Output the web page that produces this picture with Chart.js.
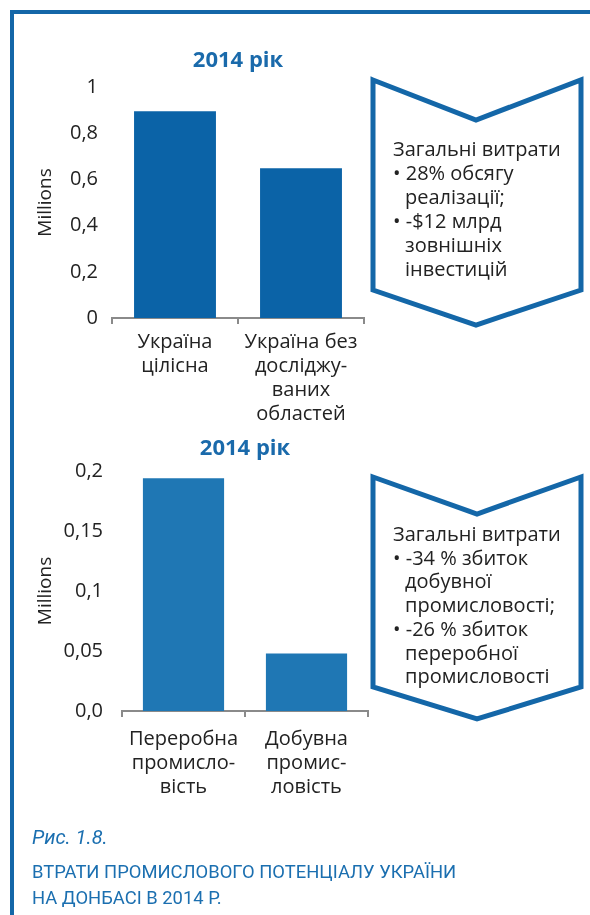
<!DOCTYPE html>
<html>
<head>
<meta charset="utf-8">
<script src="https://cdn.jsdelivr.net/npm/chart.js@4"></script>
<style>
  html, body { margin: 0; padding: 0; background: #fff; }
  body { width: 590px; height: 915px; position: relative; overflow: hidden; font-family: "Open Sans", sans-serif; }
  .frame-left { position: absolute; left: 10px; top: 10px; width: 4px; height: 905px; background: #1467a8; }
  .frame-top { position: absolute; left: 10px; top: 10px; width: 580px; height: 4px; background: #1467a8; }
  canvas { position: absolute; left: 0; }
  svg { position: absolute; left: 0; top: 0; }
  .note { position: absolute; left: 393px; width: 180px; font-size: 20px; line-height: 24px; color: #222; }
  .note .b { padding-left: 12px; text-indent: -12px; }
  .cap { position: absolute; left: 32px; color: #1b6fb0; font-family: Roboto, sans-serif; }
</style>
</head>
<body>
<div class="frame-left"></div>
<div class="frame-top"></div>

<canvas id="chart1" width="370" height="380" style="top:48px"></canvas>
<canvas id="chart2" width="370" height="365" style="top:436px"></canvas>

<svg width="590" height="915">
  <polygon points="373,80 476,120 581,80 581,290 476,325 373,290" fill="none" stroke="#1467a8" stroke-width="5" stroke-linejoin="miter"/>
  <polygon points="373,477 477,514 581,477 581,687 477,719 373,687" fill="none" stroke="#1467a8" stroke-width="5" stroke-linejoin="miter"/>
</svg>

<div class="note" style="top:137px">
  <div>Загальні витрати</div>
  <div class="b">• 28% обсягу реалізації;</div>
  <div class="b">• -$12 млрд зовнішніх інвестицій</div>
</div>
<div class="note" style="top:522px; line-height:23.7px">
  <div>Загальні витрати</div>
  <div class="b">• -34 % збиток добувної промисловості;</div>
  <div class="b">• -26 % збиток переробної промисловості</div>
</div>

<div class="cap" style="top:825px; font-size:20px; font-style:italic;">Рис. 1.8.</div>
<div class="cap" style="top:859px; font-size:18.4px; line-height:26px;">ВТРАТИ ПРОМИСЛОВОГО ПОТЕНЦІАЛУ УКРАЇНИ<br>НА ДОНБАСІ В 2014 Р.</div>

<script>
// Chart 1: Україна (millions)
const categories1 = [['Україна', 'цілісна'], ['Україна без', 'досліджу-', 'ваних', 'областей']];
const values1 = [0.895, 0.648];
const yLabels1 = ['0', '0,2', '0,4', '0,6', '0,8', '1'];

// Chart 2: промисловість (millions)
const categories2 = [['Переробна', 'промисло-', 'вість'], ['Добувна', 'промис-', 'ловість']];
const values2 = [0.194, 0.048];
const yLabels2 = ['0,0', '0,05', '0,1', '0,15', '0,2'];

const titleText = '2014 рік';
const axisTitle = 'Millions';

function makeChart(id, cats, vals, yLabels, opt) {
    const ctx = document.getElementById(id).getContext('2d');
    return new Chart(ctx, {
        type: 'bar',
        data: {
            labels: cats,
            datasets: [{
                data: vals,
                backgroundColor: opt.color,
                borderWidth: 0,
                categoryPercentage: 1,
                barPercentage: opt.barPct
            }]
        },
        options: {
            responsive: false,
            animation: false,
            layout: { padding: { left: 30, right: opt.padRight, top: 0, bottom: 0 } },
            plugins: {
                legend: { display: false },
                tooltip: { enabled: false },
                title: {
                    display: true,
                    text: titleText,
                    fullSize: false,
                    color: '#1a6aab',
                    font: { family: 'Open Sans', size: 22, weight: 'bold', lineHeight: 1.2 },
                    padding: { top: 0, bottom: opt.titlePad }
                }
            },
            scales: {
                y: {
                    min: 0,
                    max: opt.max,
                    ticks: {
                        stepSize: opt.step,
                        color: '#222',
                        padding: opt.yPad,
                        font: { family: 'Open Sans', size: 20 },
                        callback: (v, i) => yLabels[i]
                    },
                    grid: { display: false },
                    border: { display: false },
                    title: {
                        display: true,
                        text: axisTitle,
                        color: '#222',
                        font: { family: 'Open Sans', size: 19 }
                    },
                    afterFit: s => { s.width = opt.yWidth; }
                },
                x: {
                    ticks: {
                        color: '#222',
                        padding: opt.xPad,
                        maxRotation: 0,
                        autoSkip: false,
                        font: { family: 'Open Sans', size: 20, lineHeight: 1.2 }
                    },
                    grid: { drawOnChartArea: false, drawTicks: true, tickLength: 6, color: '#8a8a8a', lineWidth: 2 },
                    border: { color: '#8a8a8a', width: 2 },
                    afterFit: s => { s.height = opt.xHeight; }
                }
            }
        }
    });
}

makeChart('chart1', categories1, values1, yLabels1, {
    color: '#0b63a7', barPct: 0.65, padRight: 6, titlePad: 12.6,
    max: 1, step: 0.2, yPad: 6, yWidth: 82, xPad: 6, xHeight: 110
});

makeChart('chart2', categories2, values2, yLabels2, {
    color: '#1f77b4', barPct: 0.66, padRight: 2, titlePad: 8.6,
    max: 0.2, step: 0.05, yPad: 11, yWidth: 92, xPad: 10, xHeight: 90
});
</script>
</body>
</html>
